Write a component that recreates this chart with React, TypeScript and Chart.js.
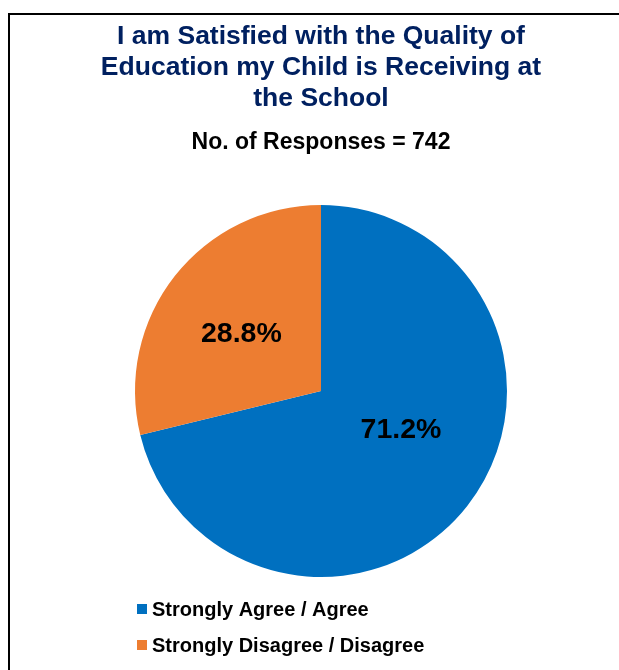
import React, { useEffect, useRef } from "react";
import { Chart, registerables } from "chart.js";

Chart.register(...registerables);

const titleLines = [
  "I am Satisfied with the Quality of",
  "Education my Child is Receiving at",
  "the School",
];
const subtitleText = "No. of Responses = 742";
const categories = ["Strongly Agree / Agree", "Strongly Disagree / Disagree"];
const percentages = [71.2, 28.8];
const sliceColors = ["#0070C0", "#ED7D31"];

const FONT = "'Liberation Sans', Arial, Helvetica, sans-serif";

const sliceLabelPlugin = {
  id: "sliceLabels",
  afterDatasetsDraw(chart: any, _args: any, opts: any) {
    const ctx = chart.ctx;
    const meta = chart.getDatasetMeta(0);
    const data = chart.data.datasets[0].data as number[];
    ctx.save();
    ctx.font = `bold ${opts.size}px ${FONT}`;
    ctx.fillStyle = opts.color;
    ctx.textAlign = "center";
    ctx.textBaseline = "alphabetic";
    meta.data.forEach((arc: any, i: number) => {
      const { x, y, startAngle, endAngle, outerRadius } = arc.getProps(
        ["x", "y", "startAngle", "endAngle", "outerRadius"],
        true
      );
      const mid = (startAngle + endAngle) / 2 + (opts.angleShift[i] * Math.PI) / 180;
      const r = outerRadius * opts.radiusFrac[i];
      const text = `${data[i].toFixed(1)}%`;
      const m = ctx.measureText(text);
      const inkCenter = (m.actualBoundingBoxAscent - m.actualBoundingBoxDescent) / 2;
      ctx.fillText(text, x + Math.cos(mid) * r, y + Math.sin(mid) * r + inkCenter);
    });
    ctx.restore();
  },
};

const boxLegendPlugin = {
  id: "boxLegend",
  afterDraw(chart: any, _args: any, opts: any) {
    const ctx = chart.ctx;
    const area = chart.chartArea;
    const cx = (area.left + area.right) / 2;
    const labels = chart.data.labels as string[];
    const colors = chart.data.datasets[0].backgroundColor as string[];
    ctx.save();
    ctx.font = `bold ${opts.size}px ${FONT}`;
    ctx.textAlign = "left";
    ctx.textBaseline = "middle";
    labels.forEach((label, i) => {
      const yc = area.bottom + opts.firstRowOffset + i * opts.rowSpacing;
      const bx = cx + opts.boxOffsetX;
      ctx.fillStyle = colors[i];
      ctx.fillRect(bx, yc - opts.box / 2, opts.box, opts.box);
      ctx.fillStyle = opts.color;
      ctx.fillText(label, bx + opts.box + opts.gap, yc + 1);
    });
    ctx.restore();
  },
};

export default function App() {
  const canvasRef = useRef<HTMLCanvasElement | null>(null);

  useEffect(() => {
    if (!canvasRef.current) return;
    const chart = new Chart(canvasRef.current, {
      type: "pie",
      data: {
        labels: categories,
        datasets: [
          {
            data: percentages,
            backgroundColor: sliceColors,
            borderWidth: 0,
            hoverOffset: 0,
          },
        ],
      },
      options: {
        animation: false,
        responsive: true,
        maintainAspectRatio: false,
        radius: 186,
        layout: { padding: { top: 0, left: 13, right: 0, bottom: 87 } },
        plugins: {
          legend: { display: false },
          tooltip: { enabled: false },
          title: {
            display: true,
            text: titleLines,
            color: "#002060",
            font: { family: FONT, size: 26.5, weight: "bold", lineHeight: 31 / 26.5 },
            padding: { top: 6.5, bottom: 0 },
          },
          subtitle: {
            display: true,
            text: subtitleText,
            color: "#000000",
            font: { family: FONT, size: 23, weight: "bold", lineHeight: 1.2 },
            padding: { top: 14.7, bottom: 42.2 },
          },
          sliceLabels: {
            size: 28.5,
            color: "#000000",
            angleShift: [-13, -2],
            radiusFrac: [0.475, 0.53],
          },
          boxLegend: {
            size: 20,
            color: "#000000",
            box: 10,
            gap: 5,
            boxOffsetX: -184,
            firstRowOffset: 26,
            rowSpacing: 36,
          },
        } as any,
      },
      plugins: [sliceLabelPlugin, boxLegendPlugin],
    });
    return () => chart.destroy();
  }, []);

  return (
    <div
      style={{
        position: "fixed",
        left: 8,
        top: 13,
        right: 0,
        bottom: 0,
        borderLeft: "2px solid #000",
        borderTop: "2px solid #000",
        background: "#fff",
      }}
    >
      <div style={{ position: "absolute", left: 0, top: 0, width: 609, height: 655 }}>
        <canvas ref={canvasRef} />
      </div>
    </div>
  );
}
